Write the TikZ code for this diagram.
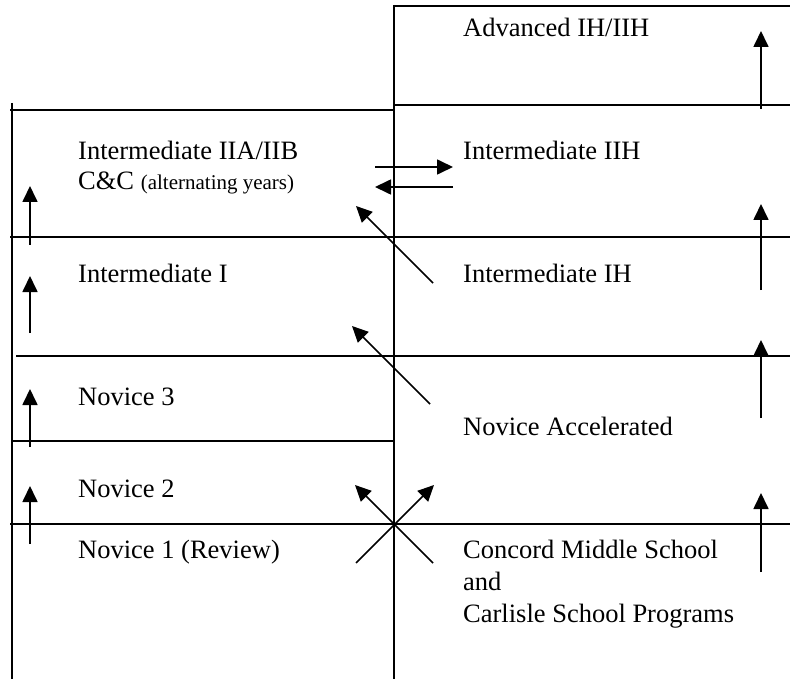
\documentclass[tikz,border=0pt]{standalone}
\usepackage{fontspec}
\setmainfont{Liberation Serif}
\usetikzlibrary{arrows.meta}
\begin{document}
\begin{tikzpicture}[x=1pt,y=-1pt,
  rule/.style={line width=1.8pt},
  up/.style={line width=1.7pt,-{Triangle[width=15pt,length=16pt]}},
  lbl/.style={anchor=base west,inner sep=0pt,font=\fontsize{26.5}{31.5}\selectfont,align=left}]
\useasboundingbox (0,0) rectangle (790,679);
% frame lines
\draw[rule] (12,103) -- (12,679);
\draw[rule] (394,5) -- (394,679);
\draw[rule] (394,6) -- (790,6);
\draw[rule] (394,105) -- (790,105);
\draw[rule] (10,110) -- (394,110);
\draw[rule] (10,237) -- (790,237);
\draw[rule] (16,356) -- (790,356);
\draw[rule] (12,441) -- (394,441);
\draw[rule] (10,524) -- (790,524);
% texts
\node[lbl] (adv) at (463,37) {Advanced IH/IIH};
\node[lbl] (int2) at (78,160) {Intermediate IIA/IIB};
\node[lbl] (cc) at (78,190) {C\&C {\fontsize{21}{25}\selectfont(alternating years)}};
\node[lbl] (int2h) at (463,160) {Intermediate IIH};
\node[lbl] (int1) at (78,283) {Intermediate I};
\node[lbl] (int1h) at (463,283) {Intermediate IH};
\node[lbl] (nov3) at (78,405) {Novice 3};
\node[lbl] (novacc) at (463,435) {Novice Accelerated};
\node[lbl] (nov2) at (78,497) {Novice 2};
\node[lbl] (nov1) at (78,558) {Novice 1 (Review)};
\node[lbl] (concord) at (463,558) {Concord Middle School};
\node[lbl] (and) at (463,590) {and};
\node[lbl] (carlisle) at (463,622) {Carlisle School Programs};
% left up arrows
\draw[up] (30,245) -- (30,186);
\draw[up] (30,333) -- (30,276);
\draw[up] (30,447) -- (30,389);
\draw[up] (30,544) -- (30,486);
% right up arrows
\draw[up] (761,109) -- (761,31);
\draw[up] (761,290) -- (761,204);
\draw[up] (761,418) -- (761,340);
\draw[up] (761,572) -- (761,493);
% horizontal exchange arrows
\draw[up] (375,167) -- (453,167);
\draw[up] (453,187) -- (375,187);
% diagonal arrows
\draw[up] (433,283) -- (356,206);
\draw[up] (430,404) -- (352,326);
\draw[up] (356,563) -- (434,485);
\draw[up] (433,563) -- (355,485);
\end{tikzpicture}
\end{document}
